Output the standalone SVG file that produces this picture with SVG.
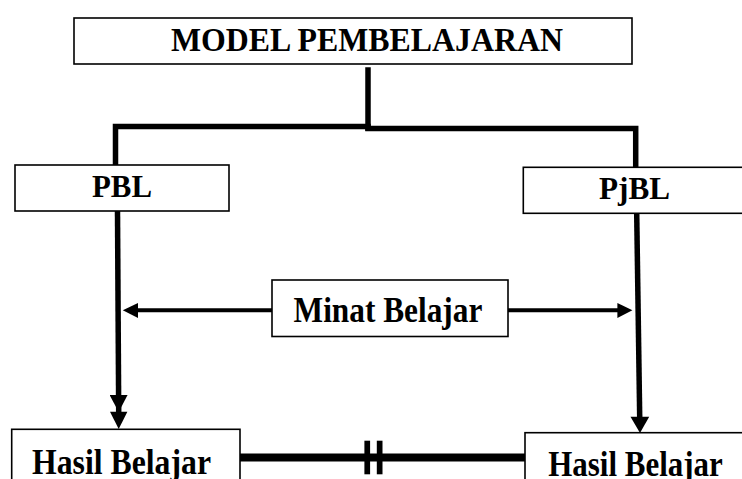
<svg xmlns="http://www.w3.org/2000/svg" width="742" height="479" viewBox="0 0 742 479">
<style>
.box{fill:#fff;stroke:#000;stroke-width:1.6}
.t{font-family:"Liberation Serif","Times New Roman",serif;font-weight:bold;fill:#000}
.ln{fill:none;stroke:#000;stroke-width:5.5;stroke-linecap:square}
.thin{fill:none;stroke:#000;stroke-width:4}
</style>
<defs>
<marker id="ah" markerUnits="userSpaceOnUse" markerWidth="18" markerHeight="18" refX="17" refY="9" orient="auto">
<path d="M0,0 L17,9 L0,18 Z" fill="#000"/>
</marker>
<marker id="ahs" markerUnits="userSpaceOnUse" markerWidth="16" markerHeight="16" refX="15" refY="7.5" orient="auto">
<path d="M0,0 L15,7.5 L0,15 Z" fill="#000"/>
</marker>
</defs>
<rect width="742" height="479" fill="#fff"/>
<g id="connectors">
<path class="ln" d="M368,70 L368,128"/>
<path class="ln" d="M115.5,165 L115.5,126.5 L368,126.5"/>
<path class="ln" d="M368,128.5 L635.7,128.5 L635.7,167"/>
<path class="ln" d="M117.5,211 L118.7,412" marker-end="url(#ah)" style="stroke-linecap:butt"/>
<path d="M110,411.7 L127.4,411.7 L118.7,429 Z" fill="#000"/>
<path class="ln" d="M636.7,213 L639.7,417" style="stroke-linecap:butt"/>
<path d="M630.5,416.7 L649.2,416.7 L640,433 Z" fill="#000"/>
<path class="thin" d="M272,310.3 L137,310.3"/>
<path d="M138,303 L122.8,310.3 L138,318 Z" fill="#000"/>
<path class="thin" d="M508,310.3 L618,310.3"/>
<path d="M617.4,303 L632.4,310.3 L617.4,318 Z" fill="#000"/>
<path d="M240,457.5 L525,457.5" stroke="#000" stroke-width="8" fill="none"/>
<rect x="364.4" y="440.7" width="5.7" height="33.6" fill="#000"/>
<rect x="376.8" y="440.7" width="5.7" height="33.6" fill="#000"/>
</g>
<g id="model">
<rect class="box" x="74" y="18" width="558" height="46"/>
<text class="t" x="171" y="51" font-size="33" textLength="392" lengthAdjust="spacingAndGlyphs">MODEL PEMBELAJARAN</text>
</g>
<g id="pbl">
<rect class="box" x="15" y="165" width="214" height="46"/>
<text class="t" x="92" y="196.7" font-size="31" textLength="60" lengthAdjust="spacingAndGlyphs">PBL</text>
</g>
<g id="pjbl">
<rect class="box" x="523.3" y="167.3" width="222" height="46"/>
<text class="t" x="599" y="199.3" font-size="31.5" textLength="71" lengthAdjust="spacingAndGlyphs">PjBL</text>
</g>
<g id="minat">
<rect class="box" x="272" y="280" width="236" height="56.5"/>
<text class="t" x="293.6" y="322" font-size="36" textLength="188.7" lengthAdjust="spacingAndGlyphs">Minat Belajar</text>
</g>
<g id="hasil-pbl">
<rect class="box" x="11.7" y="429.3" width="228.3" height="60"/>
<text class="t" x="32" y="473.5" font-size="36" textLength="179" lengthAdjust="spacingAndGlyphs">Hasil Belajar</text>
</g>
<g id="hasil-pjbl">
<rect class="box" x="525" y="432.7" width="225" height="60"/>
<text class="t" x="548.3" y="476" font-size="36" textLength="174.4" lengthAdjust="spacingAndGlyphs">Hasil Belajar</text>
</g>
</svg>
